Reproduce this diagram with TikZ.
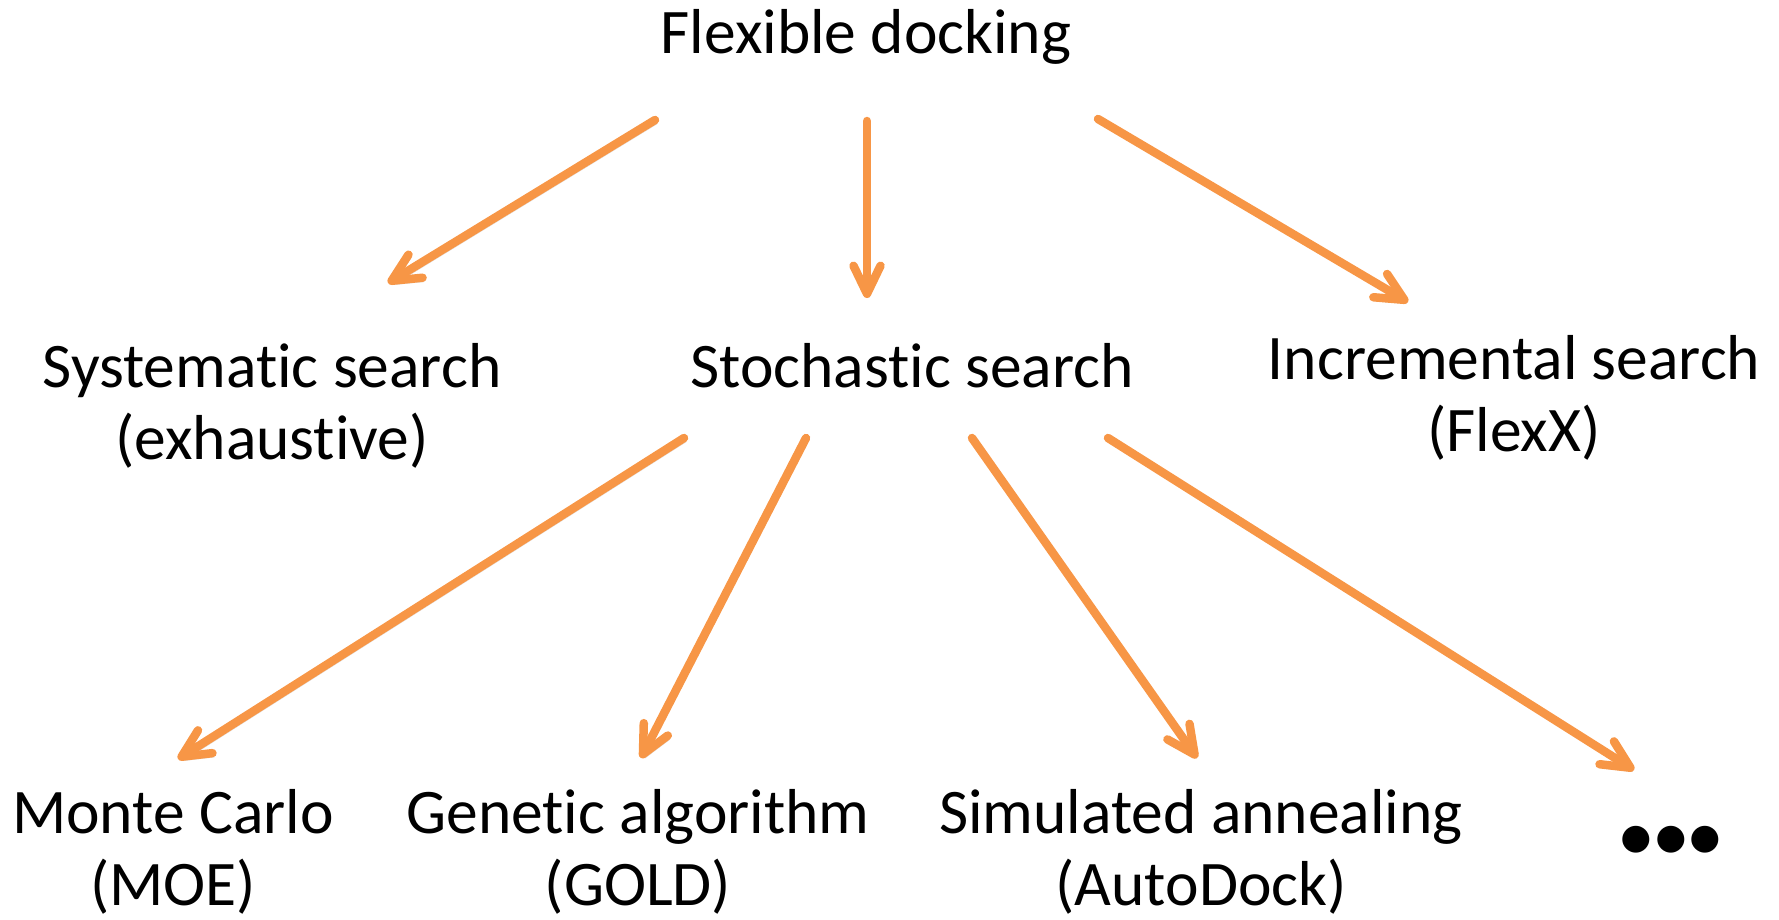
\documentclass[tikz,border=0pt]{standalone}
\usepackage{fontspec}
\setmainfont{Carlito}[Ligatures=NoCommon]
\usetikzlibrary{arrows.meta}
\definecolor{accent}{RGB}{247,150,70}
\tikzset{
  lbl/.style={anchor=base, align=center, inner sep=0pt,
    font=\fontsize{63.5}{72}\selectfont},
  branch/.style={draw=accent, line width=8.5pt, line cap=round,
    -{Straight Barb[length=28pt, width=27pt, line cap=round, line join=round]},
    preaction={draw=black, draw opacity=0.15,
      transform canvas={shift={(2pt,-4pt)}}}},
}
\begin{document}
\begin{tikzpicture}[x=1pt, y=-1pt]
\useasboundingbox (0,0) rectangle (1779,919);

% labels (base anchor sits on the last line of each label)
\node[lbl] (flex) at (866,53) {Flexible docking};
\node[lbl] (sys)  at (272,459) {Systematic search\\(exhaustive)};
\node[lbl] (sto)  at (912,387) {Stochastic search};
\node[lbl] (inc)  at (1514,451) {Incremental search\\(FlexX)};
\node[lbl] (mc)   at (173,905) {Monte Carlo\\(MOE)};
\node[lbl] (ga)   at (638,905) {Genetic algorithm\\(GOLD)};
\node[lbl] (sa)   at (1201,905) {Simulated annealing\\(AutoDock)};
\node[lbl] (more) at (1671,857) {\textbf{•\kern3pt•\kern3pt•}};

% arrow end points
\coordinate (f1) at (655,120);  \coordinate (s1) at (388,283);
\coordinate (f2) at (867,121);  \coordinate (s2) at (867,298);
\coordinate (f3) at (1098,119); \coordinate (s3) at (1408,302);
\coordinate (t1) at (684,438);  \coordinate (m1) at (178,759);
\coordinate (t2) at (806,438);  \coordinate (m2) at (641,758);
\coordinate (t3) at (972,438);  \coordinate (m3) at (1197,758);
\coordinate (t4) at (1108,438); \coordinate (m4) at (1634,770);

% connectors
\draw[branch] (f1) -- (s1);
\draw[branch] (f2) -- (s2);
\draw[branch] (f3) -- (s3);
\draw[branch] (t1) -- (m1);
\draw[branch] (t2) -- (m2);
\draw[branch] (t3) -- (m3);
\draw[branch] (t4) -- (m4);
\end{tikzpicture}
\end{document}
